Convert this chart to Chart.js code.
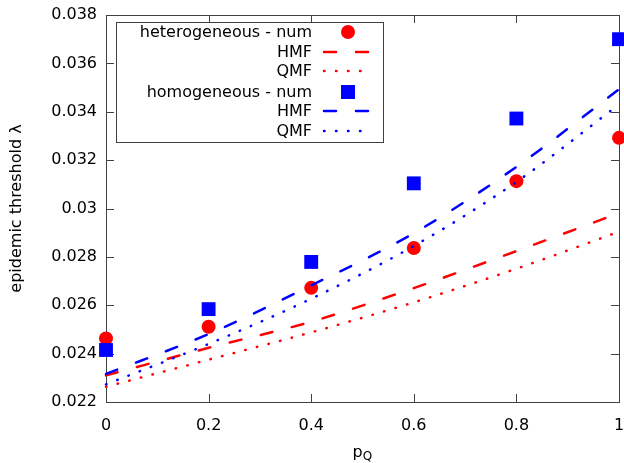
<!DOCTYPE html>
<html>
<head>
<meta charset="utf-8">
<script src="https://cdn.jsdelivr.net/npm/chart.js@4/dist/chart.umd.min.js"></script>
<style>
  body { margin: 0; background: #fff; }
  #wrap { width: 624px; height: 463px; }
</style>
</head>
<body>
<div id="wrap"><canvas id="chart" width="624" height="463"></canvas></div>
<script>
const pq = [0, 0.2, 0.4, 0.6, 0.8, 1];
const hetNum = [0.02463, 0.02511, 0.02672, 0.02837, 0.03113, 0.03292];
const hetHMF = [0.0231, 0.02424, 0.02532, 0.02671, 0.02824, 0.02981];
const hetQMF = [0.02263, 0.02375, 0.02488, 0.02612, 0.02751, 0.02904];
const homNum = [0.02415, 0.02584, 0.02779, 0.03104, 0.03372, 0.037];
const homHMF = [0.02316, 0.02481, 0.02682, 0.02898, 0.03172, 0.03493];
const homQMF = [0.02273, 0.0244, 0.02627, 0.02845, 0.0311, 0.0343];
const xTicks = [0, 0.2, 0.4, 0.6, 0.8, 1];
const yTicks = [0.022, 0.024, 0.026, 0.028, 0.03, 0.032, 0.034, 0.036, 0.038];

const FONT = "'DejaVu Sans', Verdana, sans-serif";
const RED = "#ff0000";
const BLUE = "#0000ff";
const AXIS = "#404040";

function pts(arr) {
  return pq.map((x, i) => ({ x: x, y: arr[i] }));
}

function markers(label, arr, color, style, radius, order) {
  return {
    label: label, data: pts(arr), showLine: false,
    pointStyle: style, pointRadius: radius, pointHoverRadius: radius,
    backgroundColor: color, borderColor: color, pointBorderWidth: 0,
    clip: false, order: order
  };
}

function curve(label, arr, color, dash, order) {
  return {
    label: label, data: pts(arr), borderColor: color, backgroundColor: color,
    borderWidth: 2.5, borderDash: dash, borderCapStyle: "round",
    pointRadius: 0, cubicInterpolationMode: "monotone", fill: false,
    clip: false, order: order
  };
}

const fmt = (v) => String(Number(v.toFixed(3)));

// frame with inward ticks on all four sides (gnuplot look)
const framePlugin = {
  id: "frame",
  beforeDatasetsDraw(chart) {
    const { ctx, chartArea: a, scales } = chart;
    ctx.save();
    ctx.strokeStyle = AXIS;
    ctx.lineWidth = 1;
    ctx.strokeRect(a.left + 0.5, a.top + 0.5, a.right - a.left, a.bottom - a.top);
    ctx.beginPath();
    xTicks.forEach((v) => {
      const x = Math.round(scales.x.getPixelForValue(v)) + 0.5;
      ctx.moveTo(x, a.bottom); ctx.lineTo(x, a.bottom - 8);
      ctx.moveTo(x, a.top); ctx.lineTo(x, a.top + 8);
    });
    yTicks.forEach((v) => {
      const y = Math.round(scales.y.getPixelForValue(v)) + 0.5;
      ctx.moveTo(a.left, y); ctx.lineTo(a.left + 8, y);
      ctx.moveTo(a.right, y); ctx.lineTo(a.right - 8, y);
    });
    ctx.stroke();
    ctx.restore();
  },
  afterDraw(chart) {
    const { ctx, chartArea: a } = chart;
    ctx.save();
    // x title p with subscript Q
    ctx.fillStyle = "#000";
    ctx.textBaseline = "alphabetic";
    ctx.textAlign = "left";
    ctx.font = "16px " + FONT;
    const cx = (a.left + a.right) / 2 - 10;
    ctx.fillText("p", cx, 457);
    const pw = ctx.measureText("p").width;
    ctx.font = "12px " + FONT;
    ctx.fillText("Q", cx + pw, 460);

    // key box
    ctx.strokeStyle = AXIS;
    ctx.lineWidth = 1;
    ctx.strokeRect(116.5, 22.5, 267, 120);
    ctx.font = "16px " + FONT;
    ctx.textAlign = "right";
    ctx.textBaseline = "middle";
    const rows = [32, 52, 71, 92, 111, 131];
    chart.data.datasets.forEach((ds, i) => {
      const y = rows[i];
      ctx.fillStyle = "#000";
      ctx.fillText(ds.label, 312, y + 1);
      if (ds.showLine === false) {
        ctx.fillStyle = ds.backgroundColor;
        if (ds.pointStyle === "circle") {
          ctx.beginPath();
          ctx.arc(348, y, ds.pointRadius, 0, Math.PI * 2);
          ctx.fill();
        } else {
          ctx.fillRect(341, y - 7, 14, 14);
        }
      } else {
        ctx.strokeStyle = ds.borderColor;
        ctx.lineWidth = ds.borderWidth;
        ctx.lineCap = "round";
        ctx.setLineDash(ds.borderDash);
        ctx.beginPath();
        ctx.moveTo(324, y);
        ctx.lineTo(369, y);
        ctx.stroke();
        ctx.setLineDash([]);
      }
    });
    ctx.restore();
  }
};

new Chart(document.getElementById("chart").getContext("2d"), {
  type: "line",
  data: {
    datasets: [
      markers("heterogeneous - num", hetNum, RED, "circle", 7, 6),
      curve("HMF", hetHMF, RED, [12, 20], 5),
      curve("QMF", hetQMF, RED, [0.5, 11.5], 4),
      markers("homogeneous - num", homNum, BLUE, "rect", 9.8, 3),
      curve("HMF", homHMF, BLUE, [12, 20], 2),
      curve("QMF", homQMF, BLUE, [0.5, 11.5], 1),
    ],
  },
  options: {
    responsive: false,
    animation: false,
    devicePixelRatio: 1,
    layout: { autoPadding: false, padding: { left: 0, right: 5, top: 15, bottom: 0 } },
    plugins: { legend: { display: false }, tooltip: { enabled: false } },
    scales: {
      x: {
        type: "linear", min: 0, max: 1,
        afterBuildTicks: (s) => { s.ticks = xTicks.map((v) => ({ value: v })); },
        afterFit: (s) => { s.height = 61; s.paddingLeft = 0; s.paddingRight = 0; },
        grid: { display: false, drawTicks: false },
        border: { display: false },
        ticks: { padding: 14, color: "#000", font: { family: FONT, size: 16 }, callback: fmt, maxRotation: 0 },
      },
      y: {
        type: "linear", min: 0.022, max: 0.038,
        afterBuildTicks: (s) => { s.ticks = yTicks.map((v) => ({ value: v })); },
        afterFit: (s) => { s.width = 106; s.paddingTop = 0; s.paddingBottom = 0; },
        grid: { display: false, drawTicks: false },
        border: { display: false },
        ticks: { padding: 9, color: "#000", font: { family: FONT, size: 16 }, callback: fmt },
        title: { display: true, text: "epidemic threshold λ", color: "#000", font: { family: FONT, size: 16 }, padding: { top: 7, bottom: 0 } },
      },
    },
  },
  plugins: [framePlugin],
});
</script>
</body>
</html>
